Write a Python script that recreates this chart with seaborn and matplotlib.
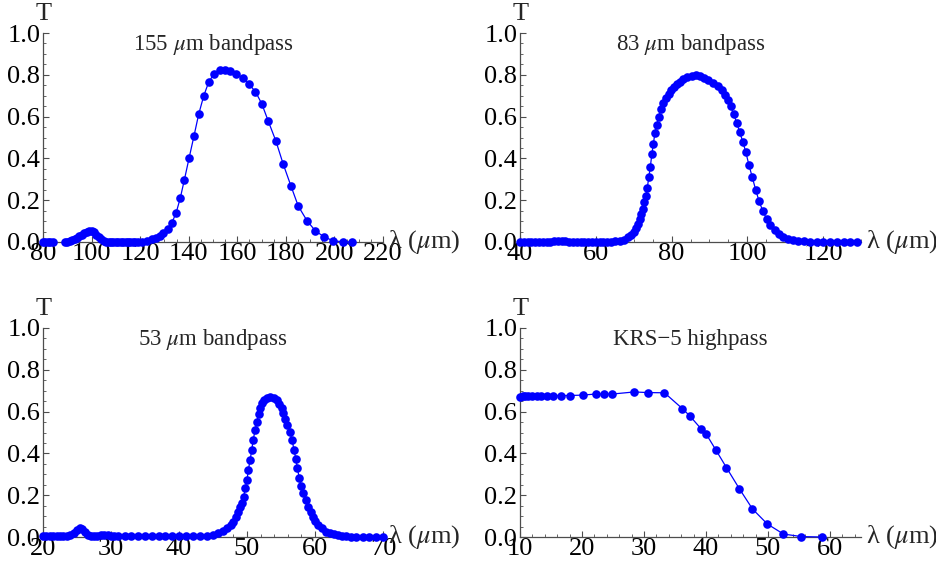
import matplotlib
matplotlib.use("Agg")
import matplotlib.pyplot as plt
import pandas as pd
import seaborn as sns
from matplotlib.ticker import MultipleLocator, FormatStrFormatter

sns.set_style("ticks")
plt.rcParams["font.family"] = ["Liberation Serif", "DejaVu Serif"]
plt.rcParams["mathtext.fontset"] = "stix"

# ---- 155 um bandpass filter ----
wl_155_a = [80, 81, 82, 83, 84]
tr_155_a = [0.001, 0.001, 0.001, 0.001, 0.001]
wl_155_b = [89, 90, 91, 92, 93, 94, 95, 96, 97, 98, 99, 100, 101, 102, 103, 104, 105,
            106, 107, 108, 109, 110, 111, 112, 113, 114, 115, 116, 117, 118, 119,
            120.6, 122.7, 124.8, 126.5, 128.2, 129.5, 131.3, 133.1, 134.8, 136.5,
            138.2, 140.2, 142.2, 144.1, 146.2, 148.2, 150.4, 152.8, 154.9, 157.1,
            159.5, 162.2, 164.7, 167.5, 170.1, 172.7, 175.9, 178.9, 182.1, 185.1,
            188.7, 192.1, 195.8, 199.5, 203.4, 207.4]
tr_155_b = [0.0, 0.002, 0.005, 0.009, 0.014, 0.020, 0.027, 0.034, 0.041, 0.047, 0.052,
            0.052, 0.046, 0.035, 0.023, 0.012, 0.005, 0.002, 0.001, 0.001, 0.001,
            0.001, 0.001, 0.001, 0.001, 0.001, 0.001, 0.001, 0.001, 0.001, 0.001,
            0.002, 0.006, 0.013, 0.019, 0.029, 0.041, 0.062, 0.093, 0.139, 0.209,
            0.297, 0.404, 0.509, 0.611, 0.700, 0.764, 0.805, 0.821, 0.822, 0.818,
            0.804, 0.786, 0.757, 0.719, 0.661, 0.580, 0.483, 0.373, 0.268, 0.172,
            0.102, 0.054, 0.024, 0.006, 0.001, 0.0]

# ---- 83 um bandpass filter ----
wl_83 = [40, 41, 42, 43, 44, 45, 46, 47, 48, 49, 50, 51, 52, 53, 54, 55, 56, 57, 58,
         59, 60, 61, 62, 63, 64, 65,
         66.4, 67.5, 68.5, 69.3, 70.0, 70.6, 71.1, 71.6, 72.0, 72.4, 72.8, 73.2,
         73.6, 74.0, 74.4, 74.8, 75.2, 75.6, 76.1, 76.6, 77.2, 77.8, 78.5, 79.2,
         79.9, 80.6, 81.4, 82.2, 83.1, 84.2, 85.3, 86.4, 87.5, 88.6, 89.7, 91.0,
         92.2, 93.2, 94.1, 94.9, 95.6, 96.4, 97.2, 98.0, 98.8, 99.6, 100.4, 101.3,
         102.2, 103.1, 104.1, 105.1, 106.1, 107.2, 108.3, 109.5, 110.8, 112.1,
         113.5, 115.0, 116.6, 118.3, 120.0, 121.8, 123.6, 125.4, 127.2, 129.0]
tr_83 = [0.002, 0.002, 0.002, 0.002, 0.002, 0.002, 0.002, 0.002, 0.002, 0.003, 0.004,
         0.005, 0.004, 0.002, 0.002, 0.002, 0.002, 0.002, 0.002, 0.002, 0.002, 0.002,
         0.002, 0.002, 0.002, 0.003,
         0.004, 0.010, 0.022, 0.035, 0.050, 0.068, 0.088, 0.110, 0.135, 0.160,
         0.190, 0.220, 0.260, 0.310, 0.360, 0.420, 0.470, 0.520, 0.560, 0.600,
         0.635, 0.665, 0.690, 0.710, 0.728, 0.743, 0.756, 0.767, 0.778, 0.788,
         0.794, 0.797, 0.792, 0.784, 0.774, 0.760, 0.745, 0.725, 0.705, 0.680,
         0.650, 0.612, 0.570, 0.525, 0.480, 0.430, 0.370, 0.310, 0.250, 0.195,
         0.148, 0.110, 0.080, 0.056, 0.038, 0.025, 0.016, 0.010, 0.006, 0.003,
         0.002, 0.001, 0.001, 0.001, 0.001, 0.0, 0.0, 0.0]

# ---- 53 um bandpass filter ----
wl_53 = [20.0, 20.5, 21.0, 21.5, 22.0, 22.5, 23.0, 23.5, 24.0, 24.5, 25.0, 25.4,
         25.8, 26.2, 26.6, 27.0, 27.5, 28.0, 28.5, 29.0, 29.5, 30.0, 30.5, 31.0,
         32.0, 33.0, 34.0, 35.0, 36.0, 37.0, 38.0, 39.0, 40.0, 41.0, 42.0,
         43.1, 44.1, 45.0, 45.8, 46.5, 47.1, 47.6, 48.0, 48.4, 48.7, 49.0, 49.2,
         49.5, 49.75, 50.0, 50.2, 50.45, 50.7, 50.9, 51.2, 51.45, 51.7, 51.9,
         52.15, 52.5, 52.9, 53.4, 53.9, 54.35, 54.75, 55.1, 55.35, 55.65, 55.95,
         56.3, 56.65, 56.9, 57.2, 57.4, 57.7, 57.95, 58.3, 58.7, 59.0, 59.35,
         59.65, 60.0, 60.5, 61.0, 61.6, 62.2, 62.8, 63.4, 64.0, 64.6, 65.3, 66.0,
         67.0, 68.0, 69.0, 70.0]
tr_53 = [0.006, 0.006, 0.005, 0.005, 0.006, 0.006, 0.006, 0.007, 0.010, 0.020,
         0.035, 0.043, 0.040, 0.025, 0.010, 0.004, 0.004, 0.007, 0.010, 0.011,
         0.009, 0.006, 0.004, 0.003, 0.003, 0.003, 0.003, 0.003, 0.003, 0.003,
         0.003, 0.003, 0.003, 0.003, 0.003,
         0.003, 0.005, 0.010, 0.018, 0.029, 0.041, 0.057, 0.073, 0.097, 0.121,
         0.145, 0.164, 0.193, 0.233, 0.273, 0.321, 0.368, 0.416, 0.464, 0.512,
         0.550, 0.587, 0.616, 0.640, 0.656, 0.666, 0.669, 0.666, 0.656, 0.635,
         0.616, 0.592, 0.565, 0.536, 0.501, 0.464, 0.416, 0.372, 0.329, 0.281,
         0.244, 0.209, 0.177, 0.145, 0.121, 0.097, 0.078, 0.057, 0.041, 0.025,
         0.018, 0.012, 0.008, 0.005, 0.003, 0.002, 0.002, 0.001, 0.001, 0.001,
         0.001]

# ---- KRS-5 highpass filter ----
wl_krs = [10.0, 10.43, 10.8, 11.3, 12.0, 12.7, 13.4, 14.3, 15.4, 16.6, 18.1, 20.1,
          22.2, 23.5, 24.9, 28.4, 30.7, 33.3, 36.2, 37.4, 39.2, 40.0, 41.6, 43.3,
          45.4, 47.5, 49.9, 52.5, 55.4, 58.7]
tr_krs = [0.671, 0.675, 0.675, 0.676, 0.676, 0.676, 0.676, 0.676, 0.677, 0.677,
          0.677, 0.679, 0.684, 0.684, 0.684, 0.694, 0.691, 0.690, 0.614, 0.579,
          0.518, 0.494, 0.416, 0.332, 0.230, 0.134, 0.062, 0.014, 0.002, 0.0]

titles = ["155 $\\mu$m bandpass", "83 $\\mu$m bandpass",
          "53 $\\mu$m bandpass", "KRS\u22125 highpass"]

W, H = 937, 565
AX_COLOR = "#4d4d4d"
BLUE = "#0000ff"
TICK_FS = 19
LABEL_FS = 19
TITLE_FS = 16.5

panels = [
    dict(box=(43, 383, 33, 242), xlim=(80, 220), major=20, minor=5,
         segs=[(wl_155_a, tr_155_a), (wl_155_b, tr_155_b)], title=titles[0]),
    dict(box=(520, 861, 33, 242), xlim=(40, 130), major=20, minor=5,
         segs=[(wl_83, tr_83)], title=titles[1]),
    dict(box=(43, 383, 328, 537), xlim=(20, 70), major=10, minor=2,
         segs=[(wl_53, tr_53)], title=titles[2]),
    dict(box=(520, 861, 328, 537), xlim=(10, 65), major=10, minor=2,
         segs=[(wl_krs, tr_krs)], title=titles[3]),
]

fig = plt.figure(figsize=(W / 100, H / 100), dpi=100)

for p in panels:
    x0, x1, y0, y1 = p["box"]
    ax = fig.add_axes([x0 / W, 1 - y1 / H, (x1 - x0) / W, (y1 - y0) / H])
    for wl, tr in p["segs"]:
        df = pd.DataFrame({"wavelength": wl, "T": tr})
        sns.lineplot(data=df, x="wavelength", y="T", ax=ax, color=BLUE,
                     linewidth=0.9, marker="o", markersize=6.2,
                     markeredgewidth=0, markerfacecolor=BLUE,
                     estimator=None, sort=False, clip_on=False, zorder=3)
    ax.set_xlim(*p["xlim"])
    ax.set_ylim(0, 1)
    ax.set_xlabel("")
    ax.set_ylabel("")
    for side in ("top", "right"):
        ax.spines[side].set_visible(False)
    for side in ("left", "bottom"):
        ax.spines[side].set_color(AX_COLOR)
        ax.spines[side].set_linewidth(0.9)
    ax.xaxis.set_major_locator(MultipleLocator(p["major"]))
    ax.xaxis.set_minor_locator(MultipleLocator(p["minor"]))
    ax.yaxis.set_major_locator(MultipleLocator(0.2))
    ax.yaxis.set_minor_locator(MultipleLocator(0.05))
    ax.yaxis.set_major_formatter(FormatStrFormatter("%.1f"))
    ax.xaxis.set_major_formatter(FormatStrFormatter("%d"))
    ax.tick_params(which="major", direction="in", length=4, width=0.8,
                   color=AX_COLOR, labelsize=TICK_FS, pad=3, labelcolor="black")
    ax.tick_params(which="minor", direction="in", length=2, width=0.6,
                   color=AX_COLOR)
    ax.tick_params(axis="x", which="major", pad=1)
    ax.tick_params(axis="y", which="major", pad=2)
    ax.annotate("T", xy=(0, 1), xycoords="axes fraction", xytext=(1, 13),
                textcoords="offset pixels", ha="center", va="baseline",
                fontsize=LABEL_FS)
    ax.annotate("\u03bb ($\\mu$m)", xy=(1, 0), xycoords="axes fraction",
                xytext=(5, 0), textcoords="offset pixels", ha="left",
                va="center", fontsize=LABEL_FS)
    ax.text(0.5, 0.945, p["title"], transform=ax.transAxes, ha="center",
            va="center", fontsize=TITLE_FS)

fig.savefig("out.png", dpi=100)
